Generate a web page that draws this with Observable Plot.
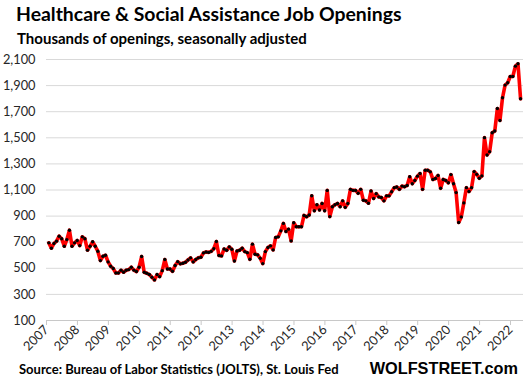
<!DOCTYPE html>
<html><head><meta charset="utf-8">
<script src="https://cdn.jsdelivr.net/npm/d3@7"></script>
<script src="https://cdn.jsdelivr.net/npm/@observablehq/plot@0.6"></script>
<style>
body{margin:0;width:526px;height:386px;position:relative;background:#fff;font-family:Lato,"Open Sans",sans-serif;overflow:hidden;color:#000}
#title{position:absolute;left:16px;top:2px;font-weight:bold;font-size:19.4px;white-space:nowrap}
#subtitle{position:absolute;left:17px;top:29px;font-weight:bold;font-size:15px;white-space:nowrap}
#chart{position:absolute;left:0;top:48px}
#source{position:absolute;left:19px;top:361px;font-weight:bold;font-size:13px;white-space:nowrap}
#brand{position:absolute;right:8px;top:359px;font-weight:bold;font-size:16.3px;white-space:nowrap;font-family:"Liberation Sans",Arial,sans-serif}
</style></head><body>
<div id="title">Healthcare &amp; Social Assistance Job Openings</div>
<div id="subtitle">Thousands of openings, seasonally adjusted</div>
<div id="chart"></div>
<div id="source">Source: Bureau of Labor Statistics (JOLTS), St. Louis Fed</div>
<div id="brand">WOLFSTREET.com</div>
<script>
const startYear = 2007;
// monthly job openings (thousands), Jan 2007 onward
const openings = [
  695,654,690,708,746,726,669,720,792,669,695,713,
  674,741,726,639,669,703,669,631,559,592,600,549,
  516,498,464,464,485,470,485,490,508,486,475,508,
  590,470,462,452,431,411,452,436,482,567,495,495,
  477,521,551,534,539,546,564,580,549,567,580,585,
  618,625,622,630,650,705,598,595,648,638,664,646,
  556,633,638,654,628,620,569,685,608,603,577,536,
  628,659,672,641,736,741,787,844,782,800,710,849,
  818,818,818,905,895,908,1056,941,987,947,997,941,
  1097,896,972,987,997,972,1017,967,997,1105,1097,1097,
  1075,1105,1022,1017,999,1092,1035,1072,1047,1042,1017,1055,
  1055,1087,1118,1123,1105,1130,1125,1135,1201,1148,1173,1206,
  1226,1105,1251,1251,1239,1181,1188,1211,1113,1181,1173,1155,
  1218,1148,1080,851,894,1001,1118,1088,1118,1241,1220,1190,
  1208,1501,1368,1394,1539,1552,1725,1633,1807,1904,1922,1970,
  1970,2049,2067,1799
];
const yTicks = [100,300,500,700,900,1100,1300,1500,1700,1900,2100];
const yearTicks = [2007,2008,2009,2010,2011,2012,2013,2014,2015,2016,2017,2018,2019,2020,2021,2022];

const data = openings.map((v, i) => ({t: startYear + (i + 0.9) / 12, v}));

const chart = Plot.plot({
  width: 526, height: 300,
  marginLeft: 46, marginRight: 3, marginTop: 11, marginBottom: 28,
  style: {fontFamily: "Lato, sans-serif", fontSize: "12.8px", color: "#262626", background: "transparent", overflow: "visible"},
  x: {domain: [2007, 2022.42]},
  y: {domain: [100, 2100]},
  marks: [
    Plot.gridY({ticks: yTicks, stroke: "#d9d9d9", strokeOpacity: 1}),
    Plot.axisY({ticks: yTicks, tickSize: 0, tickPadding: 11, tickFormat: d3.format(","), label: null}),
    Plot.ruleY([100], {stroke: "#c8c8c8"}),
    Plot.axisX({ticks: yearTicks, tickFormat: d => String(d), tickRotate: -45, tickSize: 5, tickPadding: 2, stroke: "#c8c8c8", fill: "#262626", label: null}),
    Plot.lineY(data, {x: "t", y: "v", stroke: "#ff0000", strokeWidth: 3.6}),
    Plot.dot(data, {x: "t", y: "v", r: 1.7, fill: "#000", stroke: null})
  ]
});
document.getElementById("chart").appendChild(chart);
</script>
</body></html>
